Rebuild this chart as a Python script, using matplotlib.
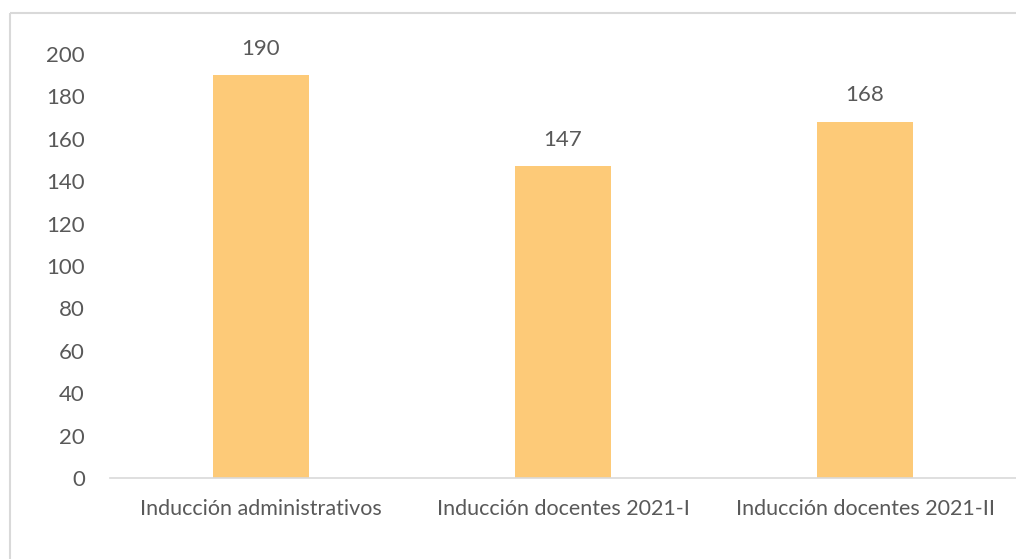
import matplotlib
matplotlib.use("Agg")
import matplotlib.pyplot as plt
from matplotlib.lines import Line2D

categories = ["Inducción administrativos", "Inducción docentes 2021-I", "Inducción docentes 2021-II"]
values = [190, 147, 168]
yticks = [0, 20, 40, 60, 80, 100, 120, 140, 160, 180, 200]

plt.rcParams['font.family'] = ['Lato', 'DejaVu Sans']
text_color = "#595959"
bar_color = "#FDCA78"
line_color = "#D9D9D9"

W, H = 1016, 559
fig = plt.figure(figsize=(W / 100, H / 100), dpi=100)
fig.patch.set_facecolor("white")

# outer border (top and left edges visible)
fig.add_artist(Line2D([10 / W, 1.0], [1 - 13 / H, 1 - 13 / H], transform=fig.transFigure,
                      color=line_color, linewidth=1.5, solid_capstyle="butt"))
fig.add_artist(Line2D([10 / W, 10 / W], [0, 1 - 13 / H], transform=fig.transFigure,
                      color=line_color, linewidth=1.5, solid_capstyle="butt"))

ax = fig.add_axes([110 / W, 1 - 478 / H, (1016 - 110) / W, (478 - 54) / H])
x = range(len(categories))
ax.bar(x, values, width=0.32, color=bar_color, zorder=2)
ax.set_xlim(-0.5, len(categories) - 0.5)
ax.set_ylim(0, 200)
ax.set_yticks(yticks)
ax.set_yticklabels([str(v) for v in yticks], fontsize=16, color=text_color)
ax.set_xticks(list(x))
ax.set_xticklabels(categories, fontsize=15.5, color=text_color)
ax.tick_params(axis='y', length=0, pad=18)
ax.tick_params(axis='x', length=0, pad=15)
ax.spines["top"].set_visible(False)
ax.spines["right"].set_visible(False)
ax.spines["left"].set_visible(False)
ax.spines["bottom"].set_color(line_color)
ax.spines["bottom"].set_linewidth(1.2)
ax.patch.set_visible(False)

for xi, v in zip(x, values):
    ax.annotate(str(v), (xi, v), xytext=(0, 12), textcoords="offset points",
                ha="center", va="bottom", fontsize=16, color=text_color)

fig.savefig("out.png", dpi=100, facecolor="white")
